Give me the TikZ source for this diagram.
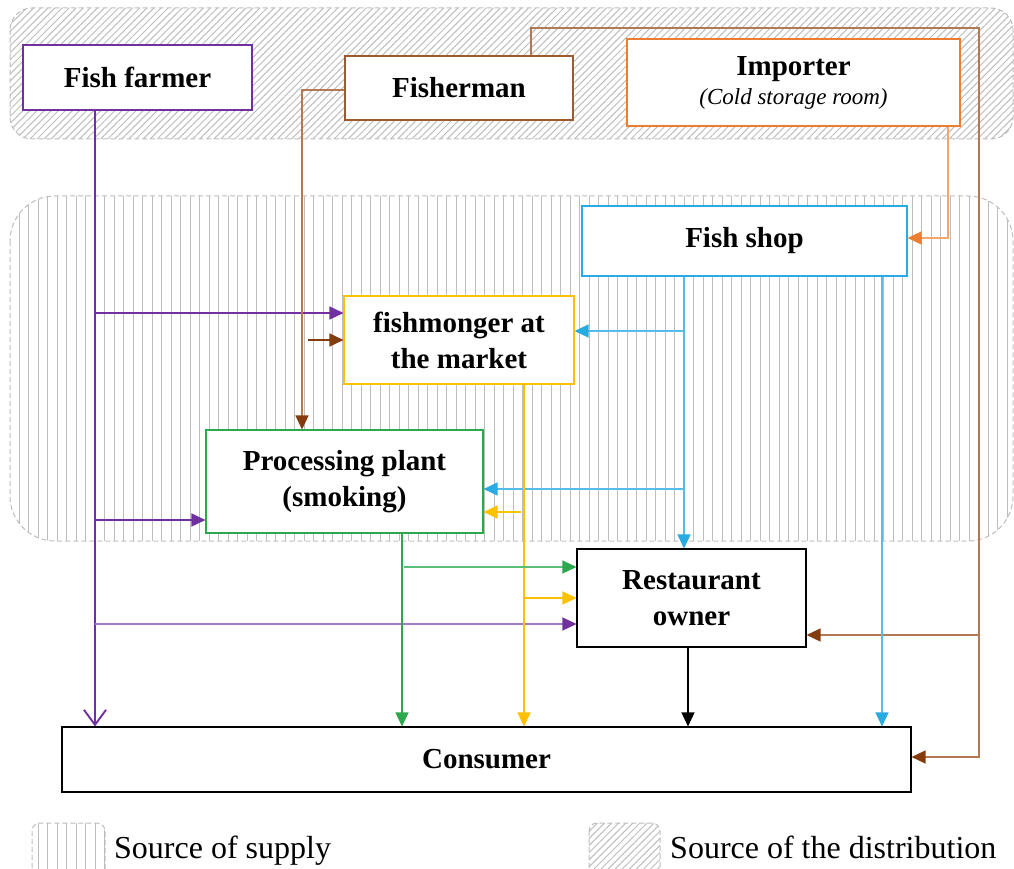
\documentclass[tikz,border=0pt]{standalone}
\usepackage{fontspec}
\setmainfont{Liberation Serif}
\usetikzlibrary{arrows.meta,patterns.meta}
\definecolor{cpurple}{HTML}{7030A0}
\definecolor{lpurple}{HTML}{A27CC6}
\definecolor{bdark}{HTML}{843C0C}
\definecolor{blight}{HTML}{B07A52}
\definecolor{bbox}{HTML}{9C5A30}
\definecolor{corange}{HTML}{ED7D31}
\definecolor{lorange}{HTML}{F4A66E}
\definecolor{cblue}{HTML}{29ABE2}
\definecolor{lblue}{HTML}{55BCEA}
\definecolor{cgold}{HTML}{FFC000}
\definecolor{cgreen}{HTML}{2EA84F}
\definecolor{lgreen}{HTML}{5CBE78}
\definecolor{hatch}{HTML}{BDBDBD}
\tikzset{
  boxnode/.style={draw, fill=white, line width=1.1pt, inner sep=0pt, align=center,
    font=\fontsize{29}{36}\selectfont\bfseries},
  conn/.style={line width=1.4pt},
  tri/.style={-{Triangle[length=14pt,width=13pt,color=#1]}},
  regionborder/.style={draw=hatch, line width=1pt, dash pattern=on 5pt off 3pt},
  vlines/.style={pattern={Lines[angle=90,distance=9.5pt,line width=1pt]}, pattern color=hatch},
  dlines/.style={pattern={Lines[angle=45,distance=5pt,line width=1pt]}, pattern color=hatch},
  legtext/.style={anchor=base west, inner sep=0pt, font=\fontsize{32}{36}\selectfont}
}
\begin{document}
\begin{tikzpicture}[x=1pt,y=-1pt]
\useasboundingbox (0,0) rectangle (1014,869);
% regions
\path[dlines, rounded corners=22pt] (10,8) rectangle (1013,139);
\draw[regionborder, rounded corners=22pt] (10,8) rectangle (1013,139);
\path[vlines, rounded corners=45pt] (10,196) rectangle (1013,541);
\draw[regionborder, rounded corners=45pt] (10,196) rectangle (1013,541);
% nodes
\node[boxnode, draw=cpurple, minimum width=229pt, minimum height=65pt] (farmer) at (137.5,77.5) {Fish farmer};
\node[boxnode, draw=bbox, minimum width=228pt, minimum height=64pt] (fisherman) at (459,88) {Fisherman};
\node[boxnode, draw=corange, minimum width=333pt, minimum height=87pt] (importer) at (793.5,82.5) {Importer\\[-7pt]{\fontsize{23}{28}\selectfont\mdseries\itshape (Cold storage room)}};
\node[boxnode, draw=cblue, minimum width=325pt, minimum height=70pt] (shop) at (744.5,241) {Fish shop};
\node[boxnode, draw=cgold, minimum width=230pt, minimum height=88pt] (fishmonger) at (459,340) {fishmonger at\\the market};
\node[boxnode, draw=cgreen, minimum width=277pt, minimum height=103pt] (plant) at (344.5,481.5) {Processing plant\\(smoking)};
\node[boxnode, draw=black, minimum width=229pt, minimum height=98pt] (rest) at (691.5,598) {Restaurant\\owner};
\node[boxnode, draw=black, minimum width=849pt, minimum height=65pt] (consumer) at (486.5,759.5) {Consumer};
% helper coordinates
\coordinate (cP) at (95,0);
% purple
\draw[conn, line width=1.9pt, cpurple, -{Straight Barb[length=15pt,width=22pt,line width=1.9pt]}] (farmer.south -| cP) -- (consumer.north -| cP);
\draw[conn, cpurple, tri=cpurple] (95,313) -- (fishmonger.west |- 0,313);
\draw[conn, cpurple, tri=cpurple] (95,520) -- (plant.west |- 0,520);
\draw[conn, lpurple, tri=cpurple] (95,624) -- (rest.west |- 0,624);
% brown from fisherman
\draw[conn, blight, tri=bdark] (fisherman.west |- 0,90) -- (302,90) -- (plant.north -| 302,0);
\draw[conn, bdark, tri=bdark] (308,340) -- (fishmonger.west |- 0,340);
\draw[conn, blight, tri=bdark] (fisherman.north -| 531,0) -- (531,28) -- (979,28) -- (979,757) -- (consumer.east |- 0,757);
\draw[conn, blight, tri=bdark] (979,635) -- (rest.east |- 0,635);
% orange
\draw[conn, lorange, tri=corange] (importer.south -| 948,0) -- (948,238) -- (shop.east |- 0,238);
% blue
\draw[conn, lblue, tri=cblue] (shop.south -| 684,0) -- (rest.north -| 684,0);
\draw[conn, lblue, tri=cblue] (684,331) -- (fishmonger.east |- 0,331);
\draw[conn, lblue, tri=cblue] (684,489) -- (plant.east |- 0,489);
\draw[conn, lblue, tri=cblue] (shop.south -| 882,0) -- (consumer.north -| 882,0);
% gold
\draw[conn, cgold, tri=cgold] (fishmonger.south -| 524,0) -- (consumer.north -| 524,0);
\draw[conn, cgold, tri=cgold] (521,512) -- (plant.east |- 0,512);
\draw[conn, cgold, tri=cgold] (524,598) -- (rest.west |- 0,598);
% green
\draw[conn, cgreen, tri=cgreen] (plant.south -| 402,0) -- (consumer.north -| 402,0);
\draw[conn, lgreen, tri=cgreen] (404,567) -- (rest.west |- 0,567);
% black
\draw[conn, black, tri=black] (rest.south -| 688,0) -- (consumer.north -| 688,0);
% legend
\path[vlines, rounded corners=8pt] (32,823) rectangle (105,885);
\draw[regionborder, rounded corners=8pt] (32,823) rectangle (105,885);
\node[legtext] (lsupply) at (114,858) {Source of supply};
\path[dlines, rounded corners=8pt] (589,823) rectangle (660,885);
\draw[regionborder, rounded corners=8pt] (589,823) rectangle (660,885);
\node[legtext] (ldist) at (670,858) {Source of the distribution};
\end{tikzpicture}
\end{document}
